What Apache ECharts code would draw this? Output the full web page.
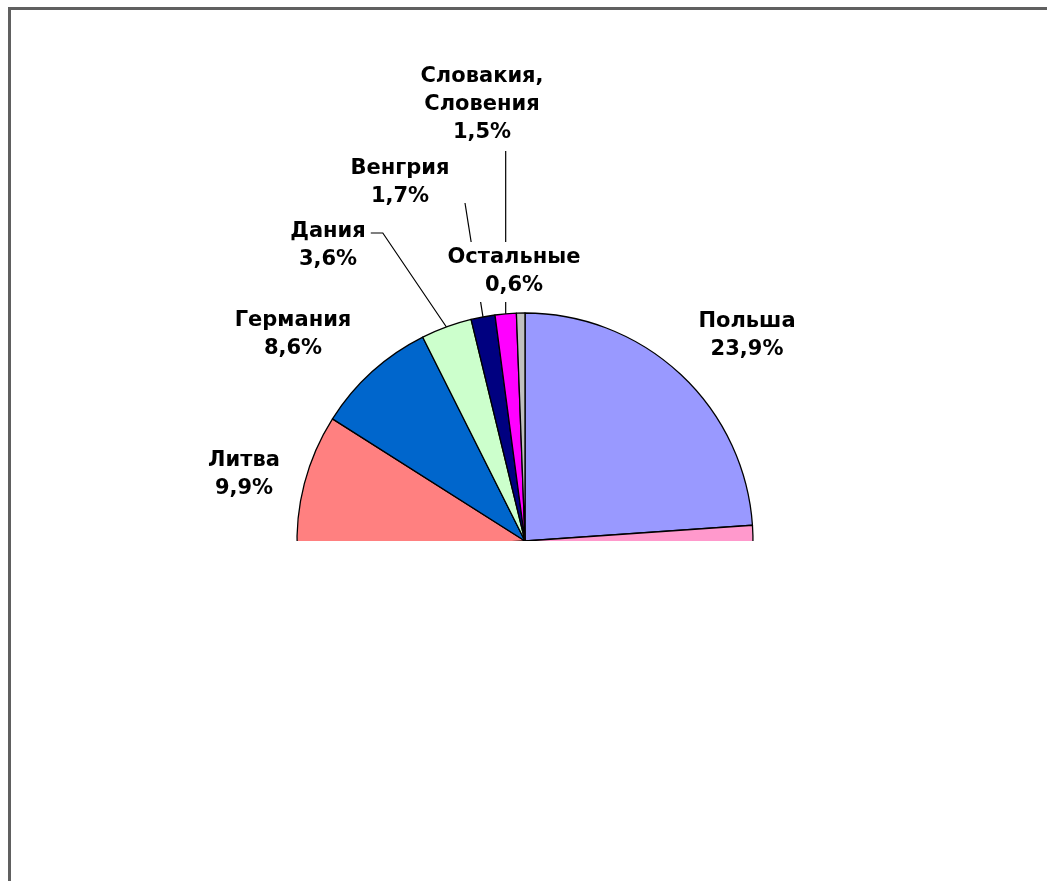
<!DOCTYPE html>
<html>
<head>
<meta charset="utf-8">
<script src="https://cdn.jsdelivr.net/npm/echarts@6/dist/echarts.min.js"></script>
<style>
  html, body { margin: 0; padding: 0; background: #fff; }
  #chart { width: 1047px; height: 881px; }
</style>
</head>
<body>
<div id="chart"></div>
<script>
// ---- data (clockwise from 12 o'clock) ----
const categories = ['Польша', 'Прочие', 'Литва', 'Германия', 'Дания', 'Венгрия', 'Словакия, Словения', 'Остальные'];
const labelTexts = ['Польша', '', 'Литва', 'Германия', 'Дания', 'Венгрия', 'Словакия,\nСловения', 'Остальные'];
const shares = [23.9, 50.2, 9.9, 8.6, 3.6, 1.7, 1.5, 0.6];

// ---- styling / layout (kept apart from data) ----
const colors = ['#9999FF', '#FF99CC', '#FF8080', '#0066CC', '#CCFFCC', '#000080', '#FF00FF', '#C0C0C0'];
const labelCenters = [[747, 336], null, [244, 475], [293, 335], [328, 246], [400, 183], [482, 105], [514, 272]];
const showLine = [false, false, false, false, true, true, true, false];

const chart = echarts.init(document.getElementById('chart'), null, { renderer: 'canvas' });

const seriesData = categories.map((name, i) => ({
  name: name,
  value: shares[i],
  itemStyle: { color: colors[i] },
  label: i === 1 ? { show: false } : (i === 7 ? { backgroundColor: '#ffffff', padding: [2, 2, 2, 2] } : {}),
  labelLine: { show: showLine[i] }
}));

chart.setOption({
  backgroundColor: '#ffffff',
  animation: false,
  graphic: [
    {
      type: 'rect', z: 100, silent: true,
      shape: { x: 12, y: 541, width: 1040, height: 345 },
      style: { fill: '#ffffff' }
    },
    {
      type: 'polyline', z: 101, silent: true,
      shape: { points: [[9.5, 881], [9.5, 8.5], [1047, 8.5]] },
      style: { stroke: '#606060', lineWidth: 3, fill: null }
    }
  ],
  series: [{
    type: 'pie',
    center: [525, 541],
    radius: 228,
    startAngle: 90,
    clockwise: true,
    avoidLabelOverlap: false,
    itemStyle: { borderColor: '#000000', borderWidth: 1.3 },
    label: {
      show: true,
      position: 'outside',
      color: '#000000',
      fontFamily: 'DejaVu Sans',
      fontWeight: 'bold',
      fontSize: 21,
      lineHeight: 28,
      align: 'center',
      formatter: function (p) {
        return labelTexts[p.dataIndex] + '\n' + p.value.toFixed(1).replace('.', ',') + '%';
      }
    },
    labelLine: { lineStyle: { color: '#000000', width: 1.2 }, length: 10, length2: 10 },
    labelLayout: function (params) {
      const i = params.dataIndex;
      const c = labelCenters[i];
      if (!c) return {};
      const out = { x: c[0], y: c[1], align: 'center', verticalAlign: 'middle' };
      const start = params.labelLinePoints ? params.labelLinePoints[0] : null;
      if (start && showLine[i]) {
        const halfW = params.labelRect.width / 2;
        const halfH = params.labelRect.height / 2;
        if (i === 4) {
          const endX = c[0] + halfW + 5, endY = c[1] - 13;
          out.labelLinePoints = [start, [endX + 12, endY], [endX, endY]];
        } else if (i === 5) {
          out.labelLinePoints = [start, [c[0] + 65, c[1] + 20]];
        } else if (i === 6) {
          out.labelLinePoints = [start, [start[0], c[1] + halfH + 4]];
        }
      }
      return out;
    },
    data: seriesData
  }]
});
</script>
</body>
</html>
